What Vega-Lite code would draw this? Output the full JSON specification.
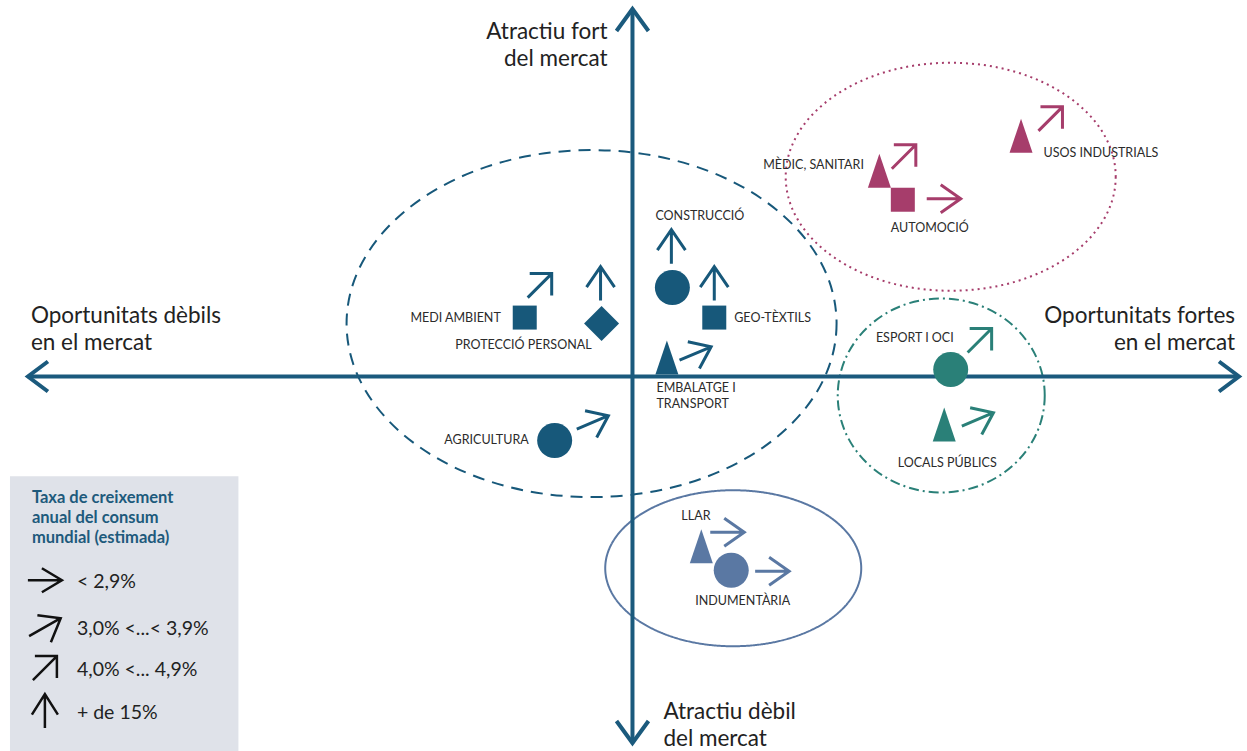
{
  "$schema": "https://vega.github.io/schema/vega-lite/v6.json",
  "width": 1247,
  "height": 751,
  "autosize": {"type": "fit", "contains": "padding"},
  "padding": 0,
  "background": "white",
  "config": {"view": {"stroke": null}, "font": "Lato"},
  "datasets": {
    "box": [{"x": -624, "x2": -395, "y": -100, "y2": -375}],
    "zones": [
      {"cluster": "Agro-construcció", "x": -41, "y": 53},
      {"cluster": "Salut i automoció", "x": 319, "y": 200},
      {"cluster": "Esport i lleure", "x": 309.5, "y": -19},
      {"cluster": "Llar i moda", "x": 101, "y": -192}
    ],
    "axes": [
      {"axis": "Oportunitats", "x": -606, "y": 0, "x2": 608, "y2": 0},
      {"axis": "Atractiu", "x": 0, "y": 368, "x2": 0, "y2": -367}
    ],
    "heads": [
      {"dir": "esquerra", "x": -606, "y": 0},
      {"dir": "dreta", "x": 608, "y": 0},
      {"dir": "amunt", "x": 0, "y": 368},
      {"dir": "avall", "x": 0, "y": -367}
    ],
    "sectors": [
      {"sector": "Medi ambient", "cluster": "Agro-construcció", "form": "quadrat", "x": -108, "y": 59},
      {"sector": "Protecció personal", "cluster": "Agro-construcció", "form": "rombe", "x": -31, "y": 53},
      {"sector": "Construcció", "cluster": "Agro-construcció", "form": "cercle", "x": 40, "y": 89},
      {"sector": "Geo-tèxtils", "cluster": "Agro-construcció", "form": "quadrat", "x": 82, "y": 59},
      {"sector": "Embalatge i transport", "cluster": "Agro-construcció", "form": "triangle", "x": 34.5, "y": 19},
      {"sector": "Agricultura", "cluster": "Agro-construcció", "form": "cercle", "x": -78, "y": -64},
      {"sector": "Mèdic, sanitari", "cluster": "Salut i automoció", "form": "triangle", "x": 247.5, "y": 206},
      {"sector": "Automoció", "cluster": "Salut i automoció", "form": "quadrat", "x": 271, "y": 177},
      {"sector": "Usos industrials", "cluster": "Salut i automoció", "form": "triangle", "x": 389.5, "y": 241},
      {"sector": "Esport i oci", "cluster": "Esport i lleure", "form": "cercle", "x": 319, "y": 7},
      {"sector": "Locals públics", "cluster": "Esport i lleure", "form": "triangle", "x": 312.5, "y": -48},
      {"sector": "Llar", "cluster": "Llar i moda", "form": "triangle", "x": 69, "y": -170},
      {"sector": "Indumentària", "cluster": "Llar i moda", "form": "cercle", "x": 99, "y": -194}
    ],
    "growth": [
      {"sector": "Medi ambient", "cluster": "Agro-construcció", "rate": "4,0% <... 4,9%", "x": -93, "y": 91},
      {"sector": "Protecció personal", "cluster": "Agro-construcció", "rate": "+ de 15%", "x": -32, "y": 93},
      {"sector": "Construcció", "cluster": "Agro-construcció", "rate": "+ de 15%", "x": 39, "y": 130},
      {"sector": "Geo-tèxtils", "cluster": "Agro-construcció", "rate": "+ de 15%", "x": 82, "y": 93},
      {"sector": "Embalatge i transport", "cluster": "Agro-construcció", "rate": "3,0% <...< 3,9%", "x": 63, "y": 23},
      {"sector": "Agricultura", "cluster": "Agro-construcció", "rate": "3,0% <...< 3,9%", "x": -40, "y": -46},
      {"sector": "Mèdic, sanitari", "cluster": "Salut i automoció", "rate": "4,0% <... 4,9%", "x": 272, "y": 220},
      {"sector": "Automoció", "cluster": "Salut i automoció", "rate": "< 2,9%", "x": 312, "y": 178},
      {"sector": "Usos industrials", "cluster": "Salut i automoció", "rate": "4,0% <... 4,9%", "x": 419, "y": 258},
      {"sector": "Esport i oci", "cluster": "Esport i lleure", "rate": "4,0% <... 4,9%", "x": 348, "y": 36},
      {"sector": "Locals públics", "cluster": "Esport i lleure", "rate": "3,0% <...< 3,9%", "x": 346, "y": -43},
      {"sector": "Llar", "cluster": "Llar i moda", "rate": "< 2,9%", "x": 95, "y": -156},
      {"sector": "Indumentària", "cluster": "Llar i moda", "rate": "< 2,9%", "x": 140, "y": -195}
    ],
    "rates": [
      {"rate": "< 2,9%", "x": -589, "y": -204},
      {"rate": "3,0% <...< 3,9%", "x": -589, "y": -251},
      {"rate": "4,0% <... 4,9%", "x": -589, "y": -292},
      {"rate": "+ de 15%", "x": -589, "y": -335}
    ],
    "legendTitle": [
      {"t": "Taxa de creixement", "x": -602, "y": -122},
      {"t": "anual del consum", "x": -602, "y": -142},
      {"t": "mundial (estimada)", "x": -602, "y": -162}
    ],
    "labelsLeft": [
      {"t": "CONSTRUCCIÓ", "x": 23, "y": 161},
      {"t": "GEO-TÈXTILS", "x": 102, "y": 59},
      {"t": "EMBALATGE I", "x": 24, "y": -12},
      {"t": "TRANSPORT", "x": 24, "y": -28},
      {"t": "USOS INDUSTRIALS", "x": 412, "y": 224},
      {"t": "ESPORT I OCI", "x": 244, "y": 39},
      {"t": "LLAR", "x": 49, "y": -140}
    ],
    "labelsRight": [
      {"t": "MEDI AMBIENT", "x": -132, "y": 59},
      {"t": "PROTECCIÓ PERSONAL", "x": -41, "y": 32},
      {"t": "AGRICULTURA", "x": -104, "y": -64},
      {"t": "MÈDIC, SANITARI", "x": 232, "y": 212}
    ],
    "labelsCenter": [
      {"t": "AUTOMOCIÓ", "x": 298, "y": 149},
      {"t": "LOCALS PÚBLICS", "x": 315.5, "y": -87},
      {"t": "INDUMENTÀRIA", "x": 110.5, "y": -225}
    ],
    "titlesLeft": [
      {"t": "Oportunitats dèbils", "x": -603, "y": 61},
      {"t": "en el mercat", "x": -603, "y": 34},
      {"t": "Atractiu dèbil", "x": 31, "y": -336},
      {"t": "del mercat", "x": 31, "y": -363}
    ],
    "titlesRight": [
      {"t": "Atractiu fort", "x": -25, "y": 345},
      {"t": "del mercat", "x": -25, "y": 318},
      {"t": "Oportunitats fortes", "x": 604, "y": 61},
      {"t": "en el mercat", "x": 604, "y": 34}
    ]
  },
  "encoding": {
    "x": {"field": "x", "type": "quantitative", "scale": {"domain": [-634, 613], "nice": false, "zero": false}, "axis": null},
    "y": {"field": "y", "type": "quantitative", "scale": {"domain": [-375, 376], "nice": false, "zero": false}, "axis": null}
  },
  "resolve": {"scale": {"shape": "independent", "strokeDash": "independent"}},
  "layer": [
    {
      "data": {"name": "box"},
      "mark": {"type": "rect", "color": "#dfe2e9"},
      "encoding": {"x2": {"field": "x2"}, "y2": {"field": "y2"}}
    },
    {
      "data": {"name": "zones"},
      "mark": {"type": "point", "filled": false, "opacity": 1, "size": 4, "strokeWidth": 2},
      "encoding": {
        "shape": {"field": "cluster", "type": "nominal", "legend": null, "scale": {
          "domain": ["Agro-construcció", "Salut i automoció", "Esport i lleure", "Llar i moda"],
          "range": [
            "M245,0C245,95.8 135.3,173.5 0,173.5C-135.3,173.5 -245,95.8 -245,0C-245,-95.8 -135.3,-173.5 0,-173.5C135.3,-173.5 245,-95.8 245,0Z",
            "M165,0C165,63 91.1,114 0,114C-91.1,114 -165,63 -165,0C-165,-63 -91.1,-114 0,-114C91.1,-114 165,-63 165,0Z",
            "M103.5,0C103.5,53.6 57.2,97 0,97C-57.2,97 -103.5,53.6 -103.5,0C-103.5,-53.6 -57.2,-97 0,-97C57.2,-97 103.5,-53.6 103.5,0Z",
            "M128,0C128,43.1 70.7,78 0,78C-70.7,78 -128,43.1 -128,0C-128,-43.1 -70.7,-78 0,-78C70.7,-78 128,-43.1 128,0Z"
          ]}},
        "strokeDash": {"field": "cluster", "type": "nominal", "legend": null, "scale": {
          "domain": ["Agro-construcció", "Salut i automoció", "Esport i lleure", "Llar i moda"],
          "range": [[12, 8], [2, 4], [10, 4, 2, 4], [1, 0]]}},
        "color": {"field": "cluster", "type": "nominal", "legend": null, "scale": {
          "domain": ["Agro-construcció", "Salut i automoció", "Esport i lleure", "Llar i moda"],
          "range": ["#17587a", "#a63d6b", "#2a8078", "#5a78a3"]}}
      }
    },
    {
      "data": {"name": "axes"},
      "mark": {"type": "rule", "color": "#1b5a7d", "strokeWidth": 4},
      "encoding": {"x2": {"field": "x2"}, "y2": {"field": "y2"}}
    },
    {
      "data": {"name": "heads"},
      "mark": {"type": "point", "filled": false, "opacity": 1, "size": 4, "strokeWidth": 4, "color": "#1b5a7d", "strokeJoin": "miter"},
      "encoding": {
        "shape": {"field": "dir", "type": "nominal", "legend": null, "scale": {
          "domain": ["esquerra", "dreta", "amunt", "avall"],
          "range": ["M20,-15L0,0L20,15", "M-20,-15L0,0L-20,15", "M-16,22L0,0L16,22", "M-16,-22L0,0L16,-22"]}}
      }
    },
    {
      "data": {"name": "sectors"},
      "mark": {"type": "point", "filled": true, "opacity": 1, "size": 4, "strokeWidth": 0},
      "encoding": {
        "shape": {"field": "form", "type": "nominal", "legend": null, "scale": {
          "domain": ["quadrat", "cercle", "rombe", "triangle"],
          "range": [
            "M-12,-12L12,-12L12,12L-12,12Z",
            "M17.5,0C17.5,9.67 9.67,17.5 0,17.5C-9.67,17.5 -17.5,9.67 -17.5,0C-17.5,-9.67 -9.67,-17.5 0,-17.5C9.67,-17.5 17.5,-9.67 17.5,0Z",
            "M0,-17.5L17.5,0L0,17.5L-17.5,0Z",
            "M0,-17L11.5,17L-11.5,17Z"
          ]}},
        "color": {"field": "cluster", "type": "nominal", "legend": null, "scale": {
          "domain": ["Agro-construcció", "Salut i automoció", "Esport i lleure", "Llar i moda"],
          "range": ["#17587a", "#a63d6b", "#2a8078", "#5a78a3"]}}
      }
    },
    {
      "data": {"name": "growth"},
      "mark": {"type": "point", "filled": false, "opacity": 1, "size": 4, "strokeWidth": 3},
      "encoding": {
        "shape": {"field": "rate", "type": "nominal", "legend": null, "scale": {
          "domain": ["< 2,9%", "3,0% <...< 3,9%", "4,0% <... 4,9%", "+ de 15%"],
          "range": [
            "M-17,0L17,0M-3,-14L17,0L-3,14",
            "M-15.8,6.7L15.8,-6.7M-7.5,-11.7L15.8,-6.7L4.1,15",
            "M-12,12L12,-12M-10,-12L12,-12L12,10",
            "M0,17L0,-17M-14,3.5L0,-17L14,3.5"
          ]}},
        "color": {"field": "cluster", "type": "nominal", "legend": null, "scale": {
          "domain": ["Agro-construcció", "Salut i automoció", "Esport i lleure", "Llar i moda"],
          "range": ["#17587a", "#a63d6b", "#2a8078", "#5a78a3"]}}
      }
    },
    {
      "data": {"name": "rates"},
      "mark": {"type": "point", "filled": false, "opacity": 1, "size": 4, "strokeWidth": 2.5, "color": "#111111"},
      "encoding": {
        "shape": {"field": "rate", "type": "nominal", "legend": null, "scale": {
          "domain": ["< 2,9%", "3,0% <...< 3,9%", "4,0% <... 4,9%", "+ de 15%"],
          "range": [
            "M-17,0L17,0M-3,-12L17,0L-3,12",
            "M-15.8,9L15.8,-9M-7.5,-12L15.8,-9L6,15",
            "M-12,12L12,-12M-10,-12L12,-12L12,10",
            "M0,17L0,-17M-13,3.5L0,-17L13,3.5"
          ]}}
      }
    },
    {
      "data": {"name": "rates"},
      "mark": {"type": "text", "align": "left", "baseline": "middle", "dx": 32, "dy": 2, "fontSize": 19.5, "color": "#222222"},
      "encoding": {"text": {"field": "rate"}}
    },
    {
      "data": {"name": "legendTitle"},
      "mark": {"type": "text", "align": "left", "baseline": "middle", "fontSize": 16.5, "fontWeight": "bold", "color": "#1d5a7c"},
      "encoding": {"text": {"field": "t"}}
    },
    {
      "data": {"name": "labelsLeft"},
      "mark": {"type": "text", "align": "left", "baseline": "middle", "fontSize": 12.5, "color": "#2b2b2b"},
      "encoding": {"text": {"field": "t"}}
    },
    {
      "data": {"name": "labelsRight"},
      "mark": {"type": "text", "align": "right", "baseline": "middle", "fontSize": 12.5, "color": "#2b2b2b"},
      "encoding": {"text": {"field": "t"}}
    },
    {
      "data": {"name": "labelsCenter"},
      "mark": {"type": "text", "align": "center", "baseline": "middle", "fontSize": 12.5, "color": "#2b2b2b"},
      "encoding": {"text": {"field": "t"}}
    },
    {
      "data": {"name": "titlesLeft"},
      "mark": {"type": "text", "align": "left", "baseline": "middle", "fontSize": 22.5, "color": "#222222"},
      "encoding": {"text": {"field": "t"}}
    },
    {
      "data": {"name": "titlesRight"},
      "mark": {"type": "text", "align": "right", "baseline": "middle", "fontSize": 22.5, "color": "#222222"},
      "encoding": {"text": {"field": "t"}}
    }
  ]
}
